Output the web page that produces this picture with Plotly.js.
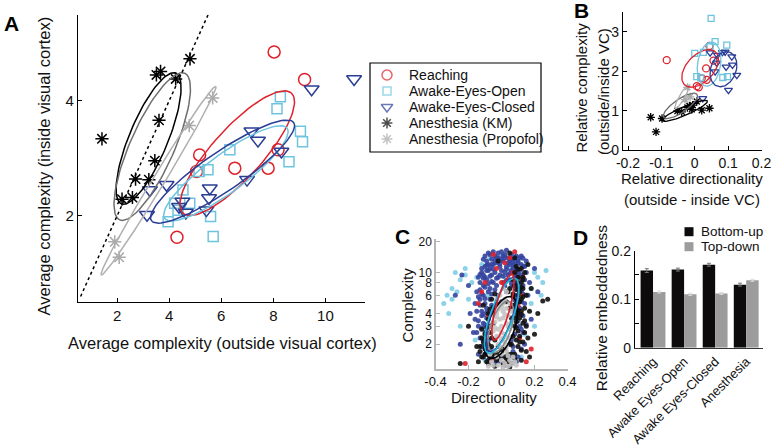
<!DOCTYPE html>
<html><head><meta charset="utf-8">
<script src="https://cdn.plot.ly/plotly-3.0.1.min.js"></script>
<style>html,body{margin:0;padding:0;background:#fff}#chart{width:775px;height:447px}</style>
</head><body><div id="chart"></div>
<script>
const W=775,H=447;
const FONT='Liberation Sans, Arial, Helvetica, sans-serif';
const TXT='#111';

// ---------- Panel A data ----------
const seriesNames=['Reaching','Awake-Eyes-Open','Awake-Eyes-Closed','Anesthesia (KM)','Anesthesia (Propofol)'];
const seriesColors=['#e0202b','#6ec4de','#2b3e95','#000000','#aaaaaa'];
const seriesSymbols=['circle-open','square-open','triangle-down-open','asterisk-open','asterisk-open'];
const aReachX=[8.03,9.2,5.17,5.05,6.52,7.8,8.18,4.3];
const aReachY=[4.85,4.37,3.06,2.77,2.83,2.83,3.15,1.63];
const aOpenX=[8.27,8.14,9.04,9.12,8.6,6.33,5.49,5.15,4.53,4.21,4.79,3.96,5.59,5.69,4.34];
const aOpenY=[4.07,3.86,3.47,3.29,2.94,3.15,2.8,2.77,2.45,2.22,2.22,1.9,1.99,1.64,2.1];
const aClosedX=[11.1,9.47,7.16,7.41,8.31,6.99,3.9,3.26,3.15,5.56,5.53,5.43,4.51,4.38,4.64];
const aClosedY=[4.38,4.2,3.47,3.31,3.12,2.63,2.54,2.45,2.02,2.48,2.31,2.1,2.25,2.16,2.06];
const aKmX=[1.42,3.51,3.67,4.25,4.8,3.61,3.45,2.71,3.22,2.19,2.59];
const aKmY=[3.34,4.45,4.51,4.38,4.73,3.66,2.96,2.64,2.63,2.29,2.32];
const aPropX=[1.91,2.08,4.77,5.67];
const aPropY=[1.55,1.28,3.57,4.05];
const aDiag=[0.6,5.5];
// ellipses (centre, half-axis a, half-axis b)
const aEllCx=[3.21,3.35,3.593,6.614,6.18,6.05];
const aEllCy=[3.344,3.205,2.612,3.09,2.74,2.77];
const aEllAx=[1.044,1.248,2.196,2.08,2.35,2.733];
const aEllAy=[1.136,1.275,1.638,1.043,0.783,0.852];
const aEllBx=[0.683,0.772,0.196,0.712,0.43,0.418];
const aEllBy=[-0.129,-0.155,-0.054,-0.291,-0.266,-0.277];
const aEllColor=['#000000','#6e6e6e','#b0b0b0','#e0202b','#6ec4de','#2b3e95'];

// ---------- Panel B data ----------
const bReachX=[-0.084,0.006,0.012,0.036,0.034,0.056,0.044,0.021];
const bReachY=[2.28,1.62,1.59,1.78,2.07,2.27,2.64,1.82];
const bOpenX=[0.049,0.061,0.096,0.0,0.026,0.006,0.018,0.084,0.098,0.046];
const bOpenY=[3.34,2.75,2.66,2.45,2.48,1.86,1.83,1.84,1.86,2.62];
const bClosedX=[0.046,0.068,0.083,0.091,0.111,0.113,0.094,0.126,0.101,0.061,0.066,0.024];
const bClosedY=[2.47,2.41,2.48,2.49,2.37,2.16,2.11,1.9,1.52,1.99,2.21,1.31];
const bKmX=[-0.132,-0.116,-0.098,-0.052,-0.039,-0.016,-0.006,0.006,-0.009,0.021,0.044,-0.022];
const bKmY=[0.83,0.46,0.8,0.99,0.97,1.12,1.14,1.23,1.03,1.01,1.06,1.08];
const bPropX=[-0.022,-0.029,-0.014];
const bPropY=[1.59,1.28,1.35];
const bEllCx=[-0.03,-0.043,-0.038,0.016,0.043,0.086];
const bEllCy=[0.993,1.12,1.35,2.07,2.18,2.05];
const bEllAx=[0.068,0.05,0.02,0.052,0.035,0.04];
const bEllAy=[0.25,0.29,0.3,0.08,0.02,0.06];
const bEllBx=[0.005,0.011,0.007,0.0175,0.006,0.004];
const bEllBy=[-0.1,-0.14,-0.034,0.47,0.56,0.44];
const bEllColor=['#000000','#6e6e6e','#b0b0b0','#e0202b','#6ec4de','#2b3e95'];

// ---------- Panel C data ----------
const cOpenX=[-0.33,-0.3,-0.25,-0.22,-0.28,-0.3,0.22,0.25,0.2,0.18,-0.25,-0.32,0.2,-0.35,-0.27,-0.18,0.15,0.1,-0.12,-0.07,0.0,0.05,-0.15,0.18,0.24,-0.2,-0.16,0.14,-0.08,0.06,-0.22,0.27,0.12,-0.1,0.02];
const cOpenY=[6,7,8.5,9.5,10,5.5,9,8,10,5,3,4,3,5,6.5,8,12,13,12,14,14.5,11,9,7,6,5.5,2.2,2.5,6,7,11,10.5,1.5,1.4,9];
const cClosedX=[-0.08,-0.06,-0.04,-0.02,0,0.02,0.04,0.06,0.08,0.1,0.12,-0.1,-0.07,-0.03,0.01,0.05,0.09,0.13,-0.05,0.03,0.07,-0.01,0.11,-0.09,0.15,
 -0.12,-0.1,-0.08,-0.06,-0.04,-0.02,0,0.02,0.04,0.06,0.08,0.1,0.12,0.14,-0.13,-0.11,-0.09,-0.07,-0.05,-0.03,0.07,0.09,0.11,0.13,-0.14,0.15,
 -0.15,-0.13,-0.11,-0.1,-0.08,-0.09,-0.12,-0.07,0.08,0.1,0.12,0.14,0.11,0.09,-0.06,-0.02,0.03,0,-0.16,0.16,
 -0.16,-0.14,-0.12,-0.1,-0.13,-0.11,-0.08,-0.09,0.1,0.12,0.08,0.13,0.06,-0.17,0.15,
 -0.12,-0.1,-0.08,-0.06,-0.04,0,0.04,0.07,0.1,0.12,-0.14,0.02,
 -0.28,-0.2,-0.25,0.22,0.18,-0.24,0.2,-0.19,0.17,
 -0.11,-0.07,-0.03,0.01,0.05,0.09,0.13,-0.05,0.03,0.07,-0.09,-0.01,0.05,-0.11,0.11,0.01,-0.04,0.06,-0.13,0.13,
 -0.1,-0.08,-0.06,-0.04,-0.02,0.0,0.02,0.04,0.06,0.08,0.1,0.12,-0.12,-0.09,-0.05,-0.01,0.03,0.07,0.11,0.14,
 -0.11,-0.07,-0.03,0.01,0.05,0.09,0.12,-0.13,-0.06,0.03,
 -0.1,-0.08,-0.12,-0.14,-0.1,-0.06,0.02,0.1,0.12,0.08,
 -0.15,-0.13,-0.11,-0.09,-0.14,-0.12,-0.1,-0.15,-0.11,-0.09,
 0.11,0.13,0.09,0.07,-0.05,-0.09,0.05,0.09,-0.02,0.14];
const cClosedY=[12,13.5,14.5,15.5,16,15,14,15,13.5,12.5,12,11.5,11,12.5,13,12,11,11.5,16,16.5,12.8,11.5,14,13,13,
 10,9,10.5,9.5,10,9,10.5,10,9.5,10.5,9,10,9.5,8.5,8,7.5,8.5,7,8,7.5,7.5,8,7,7.5,9,10,
 6.5,5.5,6,5,6.5,4.5,4.2,5.5,6,5.5,6.5,5,4.5,4.2,4.8,6,6.5,5.2,5,6,
 3.5,3,3.8,2.6,2.3,3.2,2.2,3.6,3.4,2.8,2.5,3.8,2.2,2.6,3.1,
 1.9,1.6,1.4,1.8,1.3,1.5,1.35,1.7,1.5,1.8,1.6,1.25,
 6,7.5,2,6.5,3.5,9.5,11,4,8,
 13.5,15,14,14.5,13,14.5,13.8,12,11.5,11,10.5,9.5,8.5,9.5,9,8,6.8,7.8,6.8,6.2,
 14.5,15.5,12,13,14,13.5,14,12.5,13.5,12,13,14.5,11,11.8,10.8,12.2,10.8,11.8,10.5,11.5,
 8.8,9.2,8.8,9.2,9.8,9.5,8.8,9.6,8.2,8.4,
 7.2,7.8,6.2,5.8,5.6,6.2,7.4,7.6,5.2,5.4,
 4.2,4.8,3.9,4.1,3.4,2.9,3.1,2.6,2.2,1.9,
 3.0,2.6,3.8,1.9,1.5,1.7,1.5,1.35,1.35,2.0];
const cReachX=[0.05,-0.05,0.02,0.08,-0.1,0.13,-0.12,0.1,-0.08,0.11,-0.22,0.18,0.03,-0.06,0.15,0.07,-0.03,0.12,-0.14,0.0];
const cReachY=[14,15,12.5,16,8,9,6.5,4.8,3.8,2.3,1.3,1.8,1.3,1.4,1.35,10,11,6,5,8];
const cKmX=[0.08,-0.02,0.12,0.05,0.14,0.16,
 0.08,0.1,0.12,0.11,0.13,0.1,0.09,0.12,0.14,0.1,0.08,0.15,0.11,0.13,0.07,
 -0.06,-0.05,-0.07,-0.04,-0.02,0.02,0.05,0.07,0.08,0.06,0.05,0.03,-0.03,-0.05,-0.08,-0.09,-0.06,0.09,0.1,0.04,-0.02,0,
 -0.1,-0.12,-0.08,-0.06,-0.03,0.01,0.03,0.06,0.08,0.1,0.12,0.13,-0.11,-0.14,0.15,-0.04,0.05,
 -0.1,-0.12,-0.11,-0.13,
 0.28,0.25,-0.25,0.2,0.18,-0.2,0.22,0.17,
 0.06,0.09,0.11,0.07,0.12,-0.08,-0.1,0.14,0.04,0.1,0.13,0.09,
 0.09,0.1,0.12,0.13,0.11,0.08,0.1,0.12,0.14,0.09,
 0.11,0.12,0.08,0.06,0.04,0.02,-0.01,-0.04,-0.07,-0.09,
 -0.07,-0.08,-0.06,-0.04,0.05,0.07,0.07,0.08,-0.07,-0.06,
 -0.11,-0.13,-0.12,-0.1,-0.15,0.16,0.15,0.17,0.13,0.1];
const cKmY=[14,13,11,15.5,10,12,
 10,9,8,6.5,7,6,5,5.5,4.5,4,7.5,6,3.6,3.2,8.5,
 4,3.2,2.6,2.2,1.9,1.8,2.0,2.4,3.0,3.6,4.5,5.2,5,4.6,3.5,2.9,1.9,2.2,2.7,1.6,1.6,1.7,
 1.8,1.5,1.3,1.55,1.4,1.3,1.45,1.3,1.6,1.9,1.4,2.1,2.1,1.35,1.7,1.22,1.2,
 2.5,2.8,4.8,1.9,
 5.5,5.3,1.3,2.5,7,3,4,1.5,
 2.0,3.3,2.4,5.8,4.2,2.0,1.6,2.6,6.5,7,9,11.5,
 6.8,8,7.2,5.8,5.2,4.6,4.3,3.9,3.4,2.9,
 2.1,1.75,1.45,1.6,1.35,1.5,1.45,1.6,1.45,1.35,
 4.4,4.0,5.5,6.2,7,6.2,4.8,3.6,3.0,2.3,
 1.5,1.7,2.3,2.0,1.9,2.3,3.0,4.2,8.5,10.8];
const cPropX=[-0.03,-0.01,0.01,0.03,-0.02,0.0,0.02,-0.04,0.04,0.01,-0.01,0.03,-0.03,0.05,0.0,-0.02,0.02,0.04,-0.05,0.06,-0.01,0.03,-0.04,0.0,0.02,-0.02,0.05,-0.06,0.07,0.04,-0.07,0.08,0.0,0.02,-0.02,0.06,-0.06,0.01,-0.03,0.03,
 -0.03,0.01,0.03,-0.01,0.02,-0.04,0.04,0.0,-0.02,0.01,0.0,-0.03,0.04,0.06,-0.05,0.01,0.09,-0.08,0.05,-0.05];
const cPropY=[4,3.5,4.2,3.2,2.8,3.0,2.5,3.3,3.8,5,6,6.5,2.4,2.8,2.2,2.0,2.1,2.3,2.7,3.3,1.9,1.7,1.75,1.4,1.3,1.25,1.4,1.35,1.5,1.22,1.6,1.35,4.6,5.5,4.4,4.2,3.0,7,5.5,1.9,
 3.7,3.6,4.5,4.8,3.9,2.9,3.0,2.6,2.4,2.3,1.6,1.5,1.55,1.28,1.25,1.2,1.25,1.22,5,3.8];
// ellipses in (x, log10 y)
const cEllCx=[-0.004,-0.004,0.004,0.001,0.009];
const cEllCy=[0.465,0.47,0.59,0.579,0.663];
const cEllAx=[0.065,0.05,0.075,0.081,0.053];
const cEllAy=[0.30,0.25,0.36,0.365,0.321];
const cEllBx=[0.079,0.06,0.062,0.067,0.042];
const cEllBy=[-0.039,-0.03,-0.03,-0.029,-0.015];
const cEllColor=['#000000','#8a8a8a','#2b3e95','#22b8dc','#e0202b'];

// ---------- Panel D data ----------
const dCats=['Reaching','Awake Eyes-Open','Awake Eyes-Closed','Anesthesia'];
const dBottomUp=[0.159,0.161,0.171,0.130];
const dTopDown=[0.115,0.110,0.112,0.139];
const dBottomUpErr=[0.004,0.003,0.003,0.003];
const dTopDownErr=[0.002,0.002,0.002,0.002];
const dNames=['Bottom-up','Top-down'];
const dColors=['#0d0b0b','#9c9c9c'];

// ---------- helpers ----------
const T=Array.from({length:97},(_,i)=>i*2*Math.PI/96);
function ellipse(cx,cy,ax,ay,bx,by,logy){
  const xs=T.map(t=>cx+ax*Math.cos(t)+bx*Math.sin(t));
  let ys=T.map(t=>cy+ay*Math.cos(t)+by*Math.sin(t));
  if(logy) ys=ys.map(v=>Math.pow(10,v));
  return {xs,ys};
}
const px=v=>v/W, py=v=>1-v/H;
const traces=[];

// Panel A markers
const aX=[aReachX,aOpenX,aClosedX,aKmX,aPropX], aY=[aReachY,aOpenY,aClosedY,aKmY,aPropY];
const aSize=[12,10,13,11,11];
for(let i=0;i<5;i++){
  traces.push({type:'scatter',mode:'markers',x:aX[i],y:aY[i],xaxis:'x',yaxis:'y',showlegend:false,name:seriesNames[i],
    marker:{symbol:seriesSymbols[i],size:aSize[i],color:seriesColors[i],line:{width:1.5}},hoverinfo:'skip'});
}
for(let i=0;i<aEllCx.length;i++){
  const e=ellipse(aEllCx[i],aEllCy[i],aEllAx[i],aEllAy[i],aEllBx[i],aEllBy[i],false);
  traces.push({type:'scatter',mode:'lines',x:e.xs,y:e.ys,xaxis:'x',yaxis:'y',showlegend:false,line:{color:aEllColor[i],width:1.5},hoverinfo:'skip'});
}
traces.push({type:'scatter',mode:'lines',x:aDiag,y:aDiag,xaxis:'x',yaxis:'y',showlegend:false,line:{color:'#000',width:1.5,dash:'dot'},hoverinfo:'skip'});

// Panel B
const bX=[bReachX,bOpenX,bClosedX,bKmX,bPropX], bY=[bReachY,bOpenY,bClosedY,bKmY,bPropY];
const bSize=[7,6,7,7,7];
for(let i=0;i<5;i++){
  traces.push({type:'scatter',mode:'markers',x:bX[i],y:bY[i],xaxis:'x2',yaxis:'y2',showlegend:false,
    marker:{symbol:seriesSymbols[i],size:bSize[i],color:seriesColors[i],line:{width:1.3}},hoverinfo:'skip'});
}
for(let i=0;i<bEllCx.length;i++){
  const e=ellipse(bEllCx[i],bEllCy[i],bEllAx[i],bEllAy[i],bEllBx[i],bEllBy[i],false);
  traces.push({type:'scatter',mode:'lines',x:e.xs,y:e.ys,xaxis:'x2',yaxis:'y2',showlegend:false,line:{color:bEllColor[i],width:1.3},hoverinfo:'skip'});
}

// Panel C
const cX=[cOpenX,cClosedX,cReachX,cKmX,cPropX], cY=[cOpenY,cClosedY,cReachY,cKmY,cPropY];
const cCol=['#7fcde6','#34449e','#e0202b','#111111','#c4c4c4'];
for(let i=0;i<5;i++){
  traces.push({type:'scatter',mode:'markers',x:cX[i],y:cY[i],xaxis:'x3',yaxis:'y3',showlegend:false,
    marker:{symbol:'circle',size:5,color:cCol[i],opacity:0.9,line:{width:0}},hoverinfo:'skip'});
}
for(let i=0;i<cEllCx.length;i++){
  const e=ellipse(cEllCx[i],cEllCy[i],cEllAx[i],cEllAy[i],cEllBx[i],cEllBy[i],true);
  traces.push({type:'scatter',mode:'lines',x:e.xs,y:e.ys,xaxis:'x3',yaxis:'y3',showlegend:false,line:{color:cEllColor[i],width:1.6},hoverinfo:'skip'});
}

// Panel D
traces.push({type:'bar',x:dCats,y:dBottomUp,xaxis:'x4',yaxis:'y4',name:dNames[0],showlegend:false,marker:{color:dColors[0]},
  error_y:{type:'data',array:dBottomUpErr,color:'#777',thickness:1,width:2},hoverinfo:'skip'});
traces.push({type:'bar',x:dCats,y:dTopDown,xaxis:'x4',yaxis:'y4',name:dNames[1],showlegend:false,marker:{color:dColors[1]},
  error_y:{type:'data',array:dTopDownErr,color:'#ddd',thickness:1,width:2},hoverinfo:'skip'});

// Legend glyphs on a page-pixel overlay axis
const legA={x:387,y:75,dy:16,tx:407};
const legD={x:689,y:231.7,dy:15,tx:699};
traces.push({type:'scatter',mode:'markers',xaxis:'x5',yaxis:'y5',showlegend:false,hoverinfo:'skip',
  x:seriesNames.map(()=>legA.x),y:seriesNames.map((_,i)=>legA.y+i*legA.dy),
  marker:{symbol:seriesSymbols,color:seriesColors,size:[10,8,10,9,9],line:{width:1.5}}});
traces.push({type:'scatter',mode:'markers',xaxis:'x5',yaxis:'y5',showlegend:false,hoverinfo:'skip',
  x:dNames.map(()=>legD.x),y:dNames.map((_,i)=>legD.y+i*legD.dy),
  marker:{symbol:'square',color:dColors,size:9,line:{width:0}}});

const ann=[];
function txt(t,x,y,opt){ann.push(Object.assign({text:t,x:px(x),y:py(y),xref:'paper',yref:'paper',showarrow:false,
  font:{family:FONT,size:15,color:TXT},xanchor:'center',yanchor:'middle'},opt||{}));}
seriesNames.forEach((n,i)=>txt(n,legA.tx,legA.y+i*legA.dy,{xanchor:'left',font:{family:FONT,size:14,color:TXT}}));
dNames.forEach((n,i)=>txt(n,legD.tx,legD.y+i*legD.dy,{xanchor:'left',font:{family:FONT,size:13.5,color:TXT}}));
// panel letters
const bold={family:'Liberation Sans, Arial, sans-serif',size:21,color:'#000',weight:'bold'};
txt('<b>A</b>',11,23.5,{font:bold});
txt('<b>B</b>',581,10.5,{font:bold});
txt('<b>C</b>',402,236,{font:bold});
txt('<b>D</b>',580,237.5,{font:bold});
// axis titles
txt('Average complexity (outside visual cortex)',222,343,{font:{family:FONT,size:16.5,color:TXT}});
txt('Average complexity (inside visual cortex)',43,166.5,{textangle:-90,font:{family:FONT,size:16.5,color:TXT}});
txt('Relative complexity',581.5,88,{textangle:-90});
txt('(outside/inside VC)',603,92,{textangle:-90});
txt('Relative directionality',692,178.3);
txt('(outside - inside VC)',692,199.3);
txt('Directionality',494,397.5);
txt('Complexity',406.5,305,{textangle:-90});
txt('Relative embeddedness',601.7,307.5,{textangle:-90,font:{family:FONT,size:15.5,color:TXT}});

const baseAx={showgrid:false,zeroline:false,showline:true,linecolor:'#000',linewidth:1.2,ticks:'inside',ticklen:4,tickcolor:'#000',
  fixedrange:true,tickfont:{family:FONT,size:15,color:TXT}};
const layout={
  width:W,height:H,margin:{l:0,r:0,t:0,b:0},paper_bgcolor:'#fff',plot_bgcolor:'rgba(0,0,0,0)',
  showlegend:false,font:{family:FONT,color:TXT},bargap:0.2,bargroupgap:0,barmode:'group',
  xaxis:Object.assign({},baseAx,{domain:[px(78),px(364.5)],range:[0.5,11.5],tickvals:[2,4,6,8,10],anchor:'y'}),
  yaxis:Object.assign({},baseAx,{domain:[py(302.2),py(14.5)],range:[0.5,5.5],tickvals:[2,4],anchor:'x'}),
  xaxis2:Object.assign({},baseAx,{domain:[px(623),px(761.5)],range:[-0.215,0.2],tickvals:[-0.2,-0.1,0,0.1,0.2],
    ticktext:['-0.2','-0.1','0','0.1','0.2'],anchor:'y2',tickfont:{family:FONT,size:14,color:TXT}}),
  yaxis2:Object.assign({},baseAx,{domain:[py(150),py(12.1)],range:[0,3.5],tickvals:[0,1,2,3],anchor:'x2',tickfont:{family:FONT,size:14,color:TXT}}),
  xaxis3:Object.assign({},baseAx,{domain:[px(435.5),px(567.5)],range:[-0.4,0.4],tickvals:[-0.4,-0.2,0,0.2,0.4],
    ticktext:['-0.4','-0.2','0','0.2','0.4'],anchor:'y3',linecolor:'#b5b5b5',tickcolor:'#b5b5b5',tickfont:{family:FONT,size:13,color:TXT}}),
  yaxis3:Object.assign({},baseAx,{domain:[py(369.3),py(239.3)],type:'log',range:[0.057,1.325],tickvals:[2,3,4,6,8,10,20],
    ticktext:['2','3','4','6','8','10','20'],anchor:'x3',linecolor:'#b5b5b5',tickcolor:'#b5b5b5',
    tickfont:{family:FONT,size:12,color:TXT}}),
  xaxis4:Object.assign({},baseAx,{domain:[px(635),px(763.3)],type:'category',range:[-0.58,3.55],ticks:'',tickangle:-45,
    anchor:'y4',linecolor:'#333',tickfont:{family:FONT,size:13,color:TXT}}),
  yaxis4:Object.assign({},baseAx,{domain:[py(347.7),py(250.7)],range:[0,0.2],tickvals:[0,0.05,0.1,0.15,0.2],
    ticktext:['0','','0.1','','0.2'],anchor:'x4',tickfont:{family:FONT,size:14,color:TXT}}),
  xaxis5:{domain:[0,1],range:[0,W],visible:false,fixedrange:true,anchor:'y5'},
  yaxis5:{domain:[0,1],range:[H,0],visible:false,fixedrange:true,anchor:'x5'},
  shapes:[{type:'rect',xref:'paper',yref:'paper',x0:px(370),x1:px(541),y0:py(152),y1:py(63),line:{color:'#000',width:1.2},fillcolor:'rgba(0,0,0,0)'}],
  annotations:ann
};
Plotly.newPlot('chart',traces,layout,{staticPlot:true,displayModeBar:false});
</script></body></html>
